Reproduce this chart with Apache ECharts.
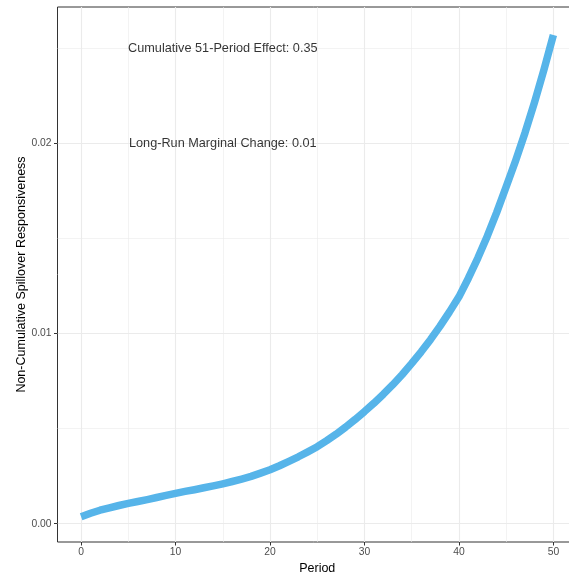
<!DOCTYPE html>
<html>
<head>
<meta charset="utf-8">
<script src="https://cdn.jsdelivr.net/npm/echarts@6/dist/echarts.min.js"></script>
<style>
  html, body { margin: 0; padding: 0; background: #ffffff; }
  #chart { width: 569px; height: 579px; }
</style>
</head>
<body>
<div id="chart"></div>
<script>
// Period index of the response path
const periods = [
  0, 1, 2, 3, 4, 5, 6, 7, 8, 9,
  10, 11, 12, 13, 14, 15, 16, 17, 18, 19,
  20, 21, 22, 23, 24, 25, 26, 27, 28, 29,
  30, 31, 32, 33, 34, 35, 36, 37, 38, 39,
  40, 41, 42, 43, 44, 45, 46, 47, 48, 49,
  50
];

// Non-cumulative spillover responsiveness per period
const responsiveness = [
  0.00037, 0.00055, 0.00071, 0.00084, 0.00096, 0.00107, 0.00117, 0.00127, 0.00138, 0.00149,
  0.00160, 0.00170, 0.00179, 0.00189, 0.00199, 0.00210, 0.00222, 0.00235, 0.00249, 0.00266,
  0.00284, 0.00305, 0.00328, 0.00352, 0.00378, 0.00405, 0.00437, 0.00471, 0.00508, 0.00548,
  0.00590, 0.00634, 0.00681, 0.00731, 0.00785, 0.00843, 0.00904, 0.00969, 0.01039, 0.01114,
  0.01193, 0.01291, 0.01397, 0.01512, 0.01637, 0.01772, 0.01909, 0.02056, 0.02215, 0.02387,
  0.02570
];

// Tick positions (major carry labels, minor only grid lines)
const xMajorTicks = [0, 10, 20, 30, 40, 50];
const xMinorTicks = [5, 15, 25, 35, 45];
const yMajorTicks = [0, 0.01, 0.02];
const yMinorTicks = [0.005, 0.015, 0.025];

// Text notes placed in data coordinates
const noteText = ['Cumulative 51-Period Effect: 0.35', 'Long-Run Marginal Change: 0.01'];
const noteX = [15, 15];
const noteY = [0.025, 0.02];

const FONT = '"Liberation Sans", Arial, sans-serif';
const GRID_COLOR = '#EBEBEB';
const INK = '#333333';

const xRange = { min: -2.5, max: 52.5 };
const yRange = { min: -0.00096, max: 0.02717 };

const chart = echarts.init(document.getElementById('chart'), null, { renderer: 'canvas' });

const lineData = periods.map((p, i) => [p, responsiveness[i]]);
const noteData = noteX.map((x, i) => [x, noteY[i]]);

chart.setOption({
  animation: false,
  backgroundColor: '#ffffff',
  textStyle: { fontFamily: FONT },
  grid: {
    // the panel runs a little past the right edge of the canvas
    left: 57.5, top: 7, right: -8, bottom: 37,
    containLabel: false, outerBoundsMode: 'none',
    show: true, borderColor: INK, borderWidth: 1, backgroundColor: 'transparent'
  },
  xAxis: [
    {
      type: 'value', min: xRange.min, max: xRange.max, position: 'bottom',
      name: 'Period', nameLocation: 'middle', nameGap: 20, nameMoveOverlap: false,
      nameTextStyle: { color: '#000000', fontSize: 12.5, fontFamily: FONT },
      axisLine: { show: false, onZero: false },
      axisTick: { show: true, length: 3.5, lineStyle: { color: INK, width: 1 }, customValues: xMajorTicks },
      axisLabel: { show: true, margin: 5, color: '#4D4D4D', fontSize: 10.3, fontFamily: FONT,
                   customValues: xMajorTicks, formatter: v => String(v) },
      splitLine: { show: true, lineStyle: { color: GRID_COLOR, width: 1.1 } }
    },
    {
      type: 'value', min: xRange.min, max: xRange.max, position: 'bottom', gridIndex: 0,
      axisLine: { show: false, onZero: false },
      axisTick: { show: false, customValues: xMinorTicks },
      axisLabel: { show: false, customValues: xMinorTicks },
      splitLine: { show: true, lineStyle: { color: GRID_COLOR, width: 0.6 } }
    }
  ],
  yAxis: [
    {
      type: 'value', min: yRange.min, max: yRange.max, position: 'left',
      name: 'Non-Cumulative Spillover Responsiveness', nameLocation: 'middle', nameGap: 29,
      nameMoveOverlap: false,
      nameTextStyle: { color: '#000000', fontSize: 12.5, fontFamily: FONT },
      axisLine: { show: false, onZero: false },
      axisTick: { show: true, length: 3.5, lineStyle: { color: INK, width: 1 }, customValues: yMajorTicks },
      axisLabel: { show: true, margin: 6, color: '#4D4D4D', fontSize: 10.3, fontFamily: FONT,
                   customValues: yMajorTicks, formatter: v => v.toFixed(2) },
      splitLine: { show: true, lineStyle: { color: GRID_COLOR, width: 1.1 } }
    },
    {
      type: 'value', min: yRange.min, max: yRange.max, position: 'left', gridIndex: 0,
      axisLine: { show: false, onZero: false },
      axisTick: { show: false, customValues: yMinorTicks },
      axisLabel: { show: false, customValues: yMinorTicks },
      splitLine: { show: true, lineStyle: { color: GRID_COLOR, width: 0.6 } }
    }
  ],
  series: [
    {
      type: 'line',
      xAxisIndex: 0, yAxisIndex: 0,
      data: lineData,
      showSymbol: false,
      smooth: false,
      lineStyle: { color: '#56B4E9', width: 7.5, cap: 'butt', join: 'round' },
      z: 3
    },
    {
      type: 'scatter',
      xAxisIndex: 0, yAxisIndex: 0,
      data: noteData,
      symbolSize: 0,
      silent: true,
      label: {
        show: true, position: 'inside', align: 'center', verticalAlign: 'middle',
        color: '#000000', fontSize: 12.7, fontFamily: FONT,
        formatter: p => noteText[p.dataIndex]
      },
      z: 4
    }
  ]
});
</script>
</body>
</html>
